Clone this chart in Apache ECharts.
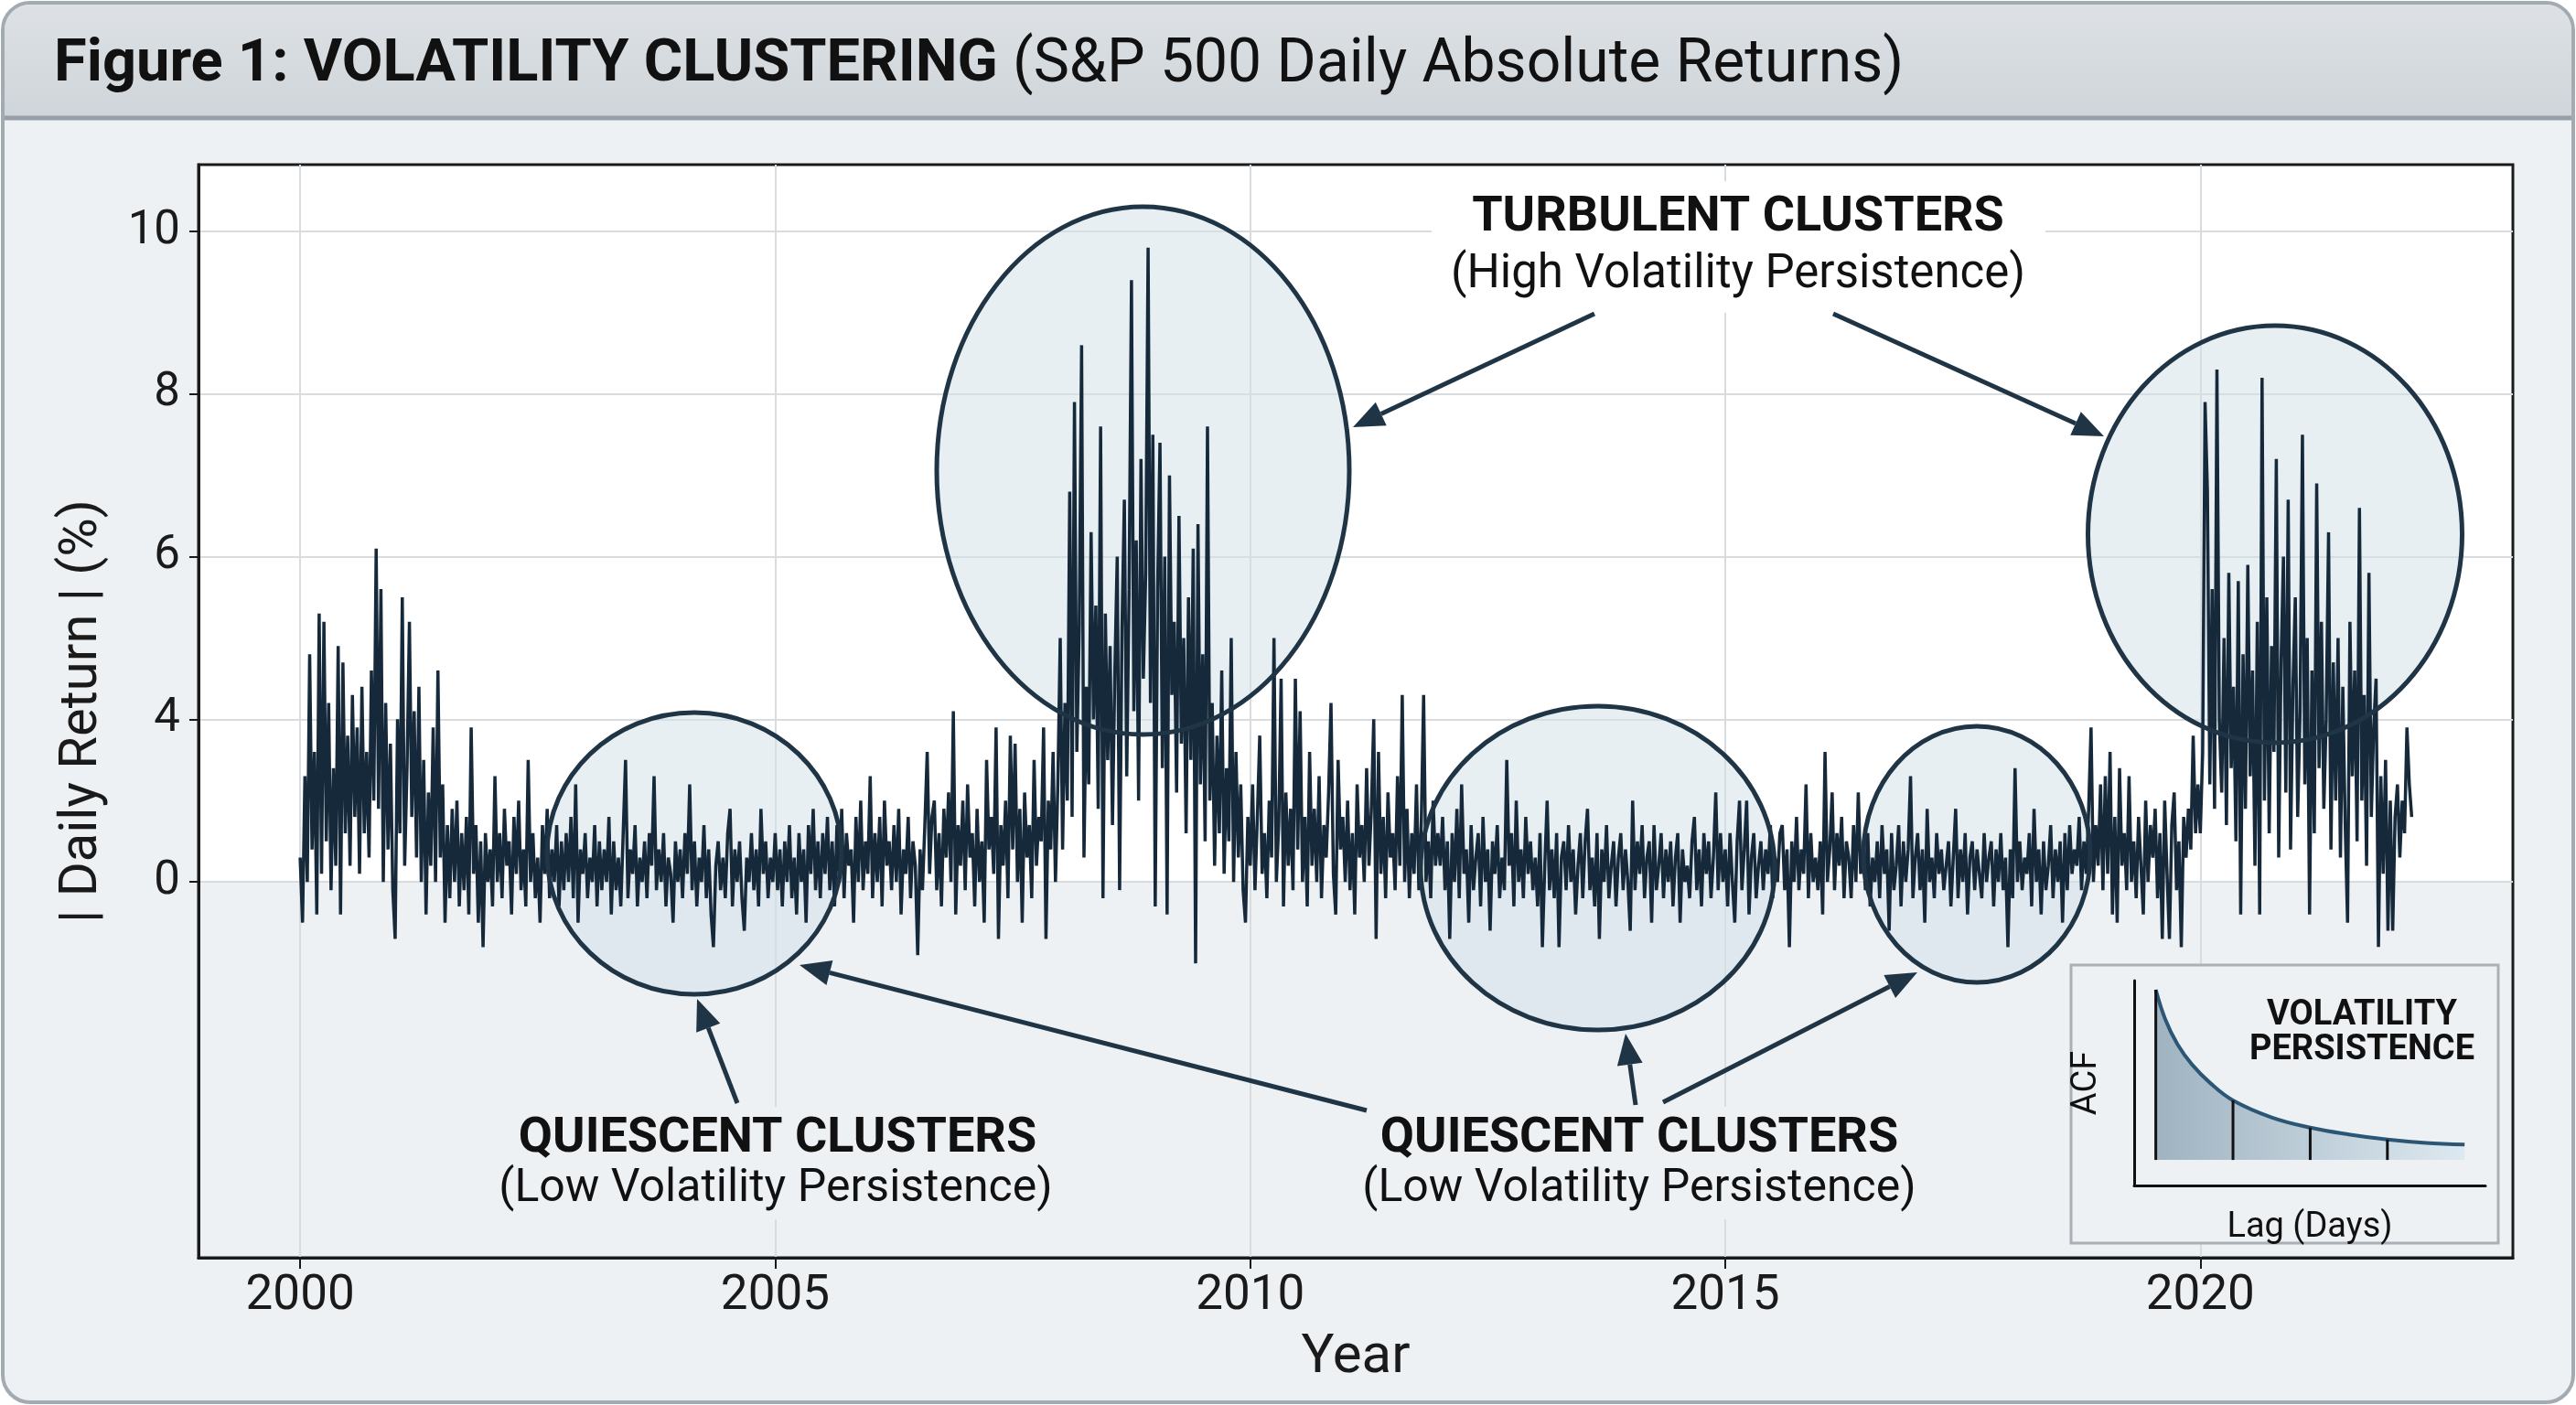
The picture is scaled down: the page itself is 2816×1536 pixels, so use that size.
<!DOCTYPE html>
<html>
<head>
<meta charset="utf-8">
<title>Volatility Clustering</title>
<script src="https://cdn.jsdelivr.net/npm/echarts/dist/echarts.min.js"></script>
<style>
  html, body { margin: 0; padding: 0; background: #fff; }
  #main { width: 2816px; height: 1536px; }
</style>
</head>
<body>
<div id="main"></div>
<script>
// |daily return|, 40 samples per year, in axis units
const startYear = 2000;
const perYear = 40;

const ret2000 = [
  2.3,1.5,3.3,2.0, 4.8,2.4,3.6,1.6, 5.3,2.1,5.2,2.5, 4.2,1.9,3.4,2.2, 4.9,1.6,4.7,2.6,
  3.8,2.2,4.3,2.8, 3.9,2.1,4.4,2.6, 3.6,2.3,4.6,3.0, 6.1,2.9,5.6,2.0, 4.2,2.4,3.7,1.9,
  1.3,4.0,2.6,5.5, 2.2,3.4,5.2,2.8, 4.1,2.3,4.4,2.0, 3.5,1.6,3.1,2.2, 3.9,2.0,4.6,2.3,
  3.2,1.5,2.7,1.8, 2.9,2.0,3.0,1.7, 2.6,1.9,2.8,1.6, 3.9,2.1,2.7,1.5, 2.5,1.2,2.6,2.0
];
const ret2002 = [
  2.4,1.7,3.3,2.0, 2.6,1.8,2.9,2.2, 2.5,1.6,2.8,2.1, 3.0,1.9,2.4,1.7, 3.5,2.0,2.6,1.8,
  2.3,1.5,2.7,2.1, 2.9,1.8,2.4,2.0, 2.7,1.7,2.5,1.9, 2.6,2.0,2.8,1.8, 3.2,1.5,2.4,2.1,
  2.6,1.8,2.3,2.0, 2.7,1.7,2.5,1.9, 2.4,2.0,2.8,1.6, 2.5,1.9,2.3,1.7, 2.6,3.5,1.8,2.4,
  2.1,2.7,1.7,2.3, 2.0,2.5,1.8,2.6, 2.2,3.3,1.9,2.4, 2.0,2.6,1.7,2.3, 2.1,1.5,2.5,2.0,
  2.4,1.8,2.6,2.1, 3.2,1.9,2.5,1.7, 2.3,2.0,2.7,1.8, 2.4,1.6,1.2,2.2, 2.5,1.9,2.3,1.8,
  2.6,2.9,1.7,2.4, 2.0,2.5,1.8,1.4, 2.3,2.0,2.6,1.9, 2.4,1.7,2.9,2.1, 2.5,1.8,2.3,2.0,
  2.6,1.9,2.4,1.7, 2.5,2.0,2.7,1.8, 2.3,1.6,2.6,2.0, 2.4,1.5,2.7,2.1, 2.9,1.9,2.5,1.8,
  2.6,2.1,2.8,1.9, 2.5,1.7,2.7,2.0, 2.9,1.8,2.6,2.2, 2.4,1.5,2.8,2.0, 3.0,1.9,2.5,2.1
];
const ret2006 = [
  3.3,1.8,2.6,2.0, 2.8,1.7,3.0,2.2, 2.5,1.9,2.7,2.0, 2.9,1.6,2.4,2.1, 2.8,1.8,2.5,2.2,
  1.1,2.4,1.9,2.7, 3.6,2.1,2.8,3.0, 1.9,2.6,1.7,2.9, 2.3,3.1,2.0,4.1, 1.6,2.7,2.2,3.0,
  1.9,3.2,2.3,2.6, 1.7,2.9,2.0,2.5, 1.5,3.5,2.4,2.8, 2.1,3.9,1.3,2.7, 2.2,3.0,1.8,3.8,
  2.4,3.7,2.0,2.9, 1.5,3.1,2.3,2.7, 1.8,3.5,2.2,2.8, 2.5,3.9,1.3,3.0, 2.4,3.6,2.0,3.2
];
const ret2008 = [
  5.0,2.4,4.2,3.0, 6.8,2.8,7.9,3.6, 5.1,8.6,2.3,4.4, 3.2,6.3,4.0,5.4, 2.9,7.6,1.8,5.3,
  3.5,4.9,2.7,4.6, 6.0,1.9,5.1,6.7, 3.3,5.6,9.4,4.1, 6.2,3.0,7.2,4.5, 5.8,9.8,4.2,7.5,
  1.7,5.6,7.4,3.4, 6.0,1.6,7.0,4.3, 5.2,3.1,6.5,3.7, 5.0,2.6,5.5,3.5, 6.1,1.0,6.4,3.2,
  4.8,2.5,7.6,3.0, 4.2,2.2,3.8,2.6, 4.6,2.1,3.4,2.5, 5.0,2.0,3.6,2.3, 3.2,1.9,1.5,2.8
];
const ret2010 = [
  2.2,3.2,1.9,2.8, 3.8,2.1,2.6,1.8, 3.0,2.3,5.0,2.0, 2.7,4.5,1.7,3.1, 2.2,2.9,1.9,4.5,
  2.4,4.1,2.0,2.8, 1.7,3.6,2.2,2.9, 2.0,3.3,1.8,2.7, 2.3,3.1,4.2,2.1, 1.6,3.5,2.4,2.8,
  2.0,3.0,1.9,2.6, 1.6,3.2,2.3,2.7, 2.0,3.4,2.2,2.9, 4.0,1.3,3.6,2.1, 2.8,1.8,3.1,2.3,
  2.6,1.9,3.3,2.2, 4.3,2.0,2.9,1.8, 2.6,2.1,3.2,1.9, 2.7,4.3,2.0,2.5, 1.8,3.0,2.2,2.6
];
const ret2012 = [
  2.2,2.8,1.9,2.5, 1.3,2.6,2.0,2.9, 1.8,3.2,2.1,2.4, 1.5,2.7,1.9,2.3, 2.6,1.7,2.8,2.0,
  2.4,1.4,2.5,2.1, 2.7,1.8,2.3,1.9, 3.5,2.2,2.6,1.7, 3.0,2.0,2.4,1.8, 2.8,2.1,2.5,1.9,
  2.3,1.7,2.6,1.2, 2.2,3.0,1.9,2.4, 1.8,2.6,1.2,2.3, 2.5,1.9,2.7,2.0, 2.4,1.6,2.2,2.6,
  1.8,2.5,2.9,1.9, 2.3,1.7,2.6,1.3, 2.4,2.0,2.7,1.8, 2.2,2.5,1.7,2.3, 2.6,1.9,2.4,2.0,
  1.4,3.0,1.9,2.5, 2.1,2.7,1.8,2.3, 2.5,1.5,2.7,1.9, 2.2,2.6,1.8,2.4, 2.0,2.5,1.7,2.3,
  2.6,1.5,2.4,2.0, 2.2,1.8,2.5,2.8, 1.9,2.4,1.7,2.6, 2.1,2.5,1.8,2.3, 3.1,1.9,2.6,2.0,
  2.4,1.7,2.6,2.0, 1.5,2.5,3.0,1.9, 2.4,3.0,1.6,2.3, 2.6,1.8,2.2,2.5, 1.9,2.4,2.1,2.7,
  1.8,2.3,2.0,2.6, 2.7,1.9,2.4,1.2, 2.5,2.0,2.8,1.9, 2.4,2.1,3.2,1.8, 2.6,2.0,2.3,1.9
];
const ret2016 = [
  2.5,1.6,3.6,2.0, 2.4,3.1,1.9,2.6, 2.2,2.8,1.8,2.5, 2.3,1.8,2.7,2.0, 3.1,2.1,2.4,1.9,
  2.6,1.7,2.3,2.0, 2.5,1.8,2.7,2.1, 2.4,1.4,2.6,1.9, 2.2,2.7,1.7,2.5, 2.0,2.4,3.3,1.8,
  2.3,2.6,1.9,2.4, 1.5,2.9,2.0,2.3, 1.8,2.6,2.1,2.4, 1.9,2.2,2.5,1.7, 2.3,2.9,1.8,2.4,
  2.0,2.6,1.6,2.3, 2.5,1.9,2.4,2.1, 1.8,2.6,2.0,2.3, 2.5,1.7,2.4,2.0, 2.6,1.9,2.3,1.2,
  2.4,1.8,3.4,2.0, 2.5,1.9,2.3,2.1, 2.6,1.7,2.9,2.0, 2.4,1.6,2.5,1.9, 2.2,2.7,1.8,2.4,
  2.0,2.5,1.5,2.6, 1.9,2.7,2.1,2.4, 2.2,2.8,1.9,2.5, 2.1,2.9,3.9,2.0, 2.7,2.2,3.2,1.9,
  3.3,2.1,3.6,1.6, 2.8,1.5,3.4,2.2, 2.6,1.9,3.3,2.0, 2.5,1.8,2.8,2.2, 1.6,3.0,2.0,2.7,
  2.3,2.9,1.8,2.6, 1.3,3.0,2.1,1.3, 2.7,3.1,1.9,2.5, 1.2,2.8,2.3,2.9, 2.4,3.8,2.6,3.2
];
const ret2020 = [
  2.6,3.6,7.9,6.8, 3.2,5.6,2.9,8.3, 4.0,3.1,5.0,2.7, 5.8,3.4,4.4,2.5, 5.7,1.6,4.8,2.9,
  5.9,3.3,4.6,2.2, 5.2,1.6,8.2,3.0, 5.5,2.6,4.9,3.6, 7.2,2.3,4.7,6.0, 3.1,6.7,2.4,4.4,
  5.5,2.8,4.1,7.5, 3.2,5.0,1.6,4.6, 2.6,6.9,3.4,5.2, 2.9,4.0,6.3,2.4, 4.7,3.0,5.0,2.3,
  4.4,2.7,1.5,5.2, 3.3,4.6,2.5,6.6, 3.0,4.3,2.2,5.8, 2.8,3.9,4.5,1.2, 3.3,2.1,3.5,1.4,
  3.0,1.4,2.8,3.2, 2.3,3.0,2.6,3.9, 3.2,2.8
];

// y ticks: the figure labels its lowest gridline "0"
const yTickValues = [2, 4, 6, 8, 10];
const yTickLabels = ['0', '4', '6', '8', '10'];
const xTickValues = [2000, 2005, 2010, 2015, 2020];

// inset: autocorrelation of volatility vs lag
const acfLags = [1, 1.12, 1.28, 1.47, 1.71, 2, 2.5, 3, 3.5, 4, 4.5, 5];
const acfValues = [1.0, 0.83, 0.68, 0.56, 0.45, 0.35, 0.25, 0.19, 0.15, 0.12, 0.10, 0.09];
const acfBarLags = [1, 2, 3, 4];

const allReturns = [].concat(ret2000, ret2002, ret2006, ret2008, ret2010, ret2012, ret2016, ret2020);
const seriesData = allReturns.map((v, i) => [startYear + i / perYear, v]);
const acfData = acfLags.map((l, i) => [l, acfValues[i]]);
const acfBarData = acfBarLags.map(l => [l, acfValues[acfLags.indexOf(l)]]);

const yMin = -2.62, yMax = 10.82;
const splitFrac = (yMax - yTickValues[0]) / (yMax - yMin);

const ink = '#1f3445';
const font = 'Roboto';

function arrow(x1, y1, x2, y2) {
  const a = Math.atan2(y2 - y1, x2 - x1);
  const L = 34, W = 14;
  const bx = x2 - L * Math.cos(a), by = y2 - L * Math.sin(a);
  return [
    { type: 'line', z: 12, shape: { x1: x1, y1: y1, x2: bx, y2: by }, style: { stroke: ink, lineWidth: 5 } },
    { type: 'polygon', z: 12, shape: { points: [[x2, y2], [bx + W * Math.sin(a), by - W * Math.cos(a)], [bx - W * Math.sin(a), by + W * Math.cos(a)]] }, style: { fill: ink } }
  ];
}

// tinted fill sits under the data line, the outline on top of it
function ellipse(cx, cy, rx, ry) {
  const shape = { cx: cx, cy: cy, rx: rx, ry: ry };
  return [
    { type: 'ellipse', z: 1, shape: shape, style: { fill: 'rgba(208,224,231,0.5)' } },
    { type: 'ellipse', z: 10, shape: shape, style: { fill: 'none', stroke: ink, lineWidth: 5 } }
  ];
}

function label(x, y, text, size, bold) {
  return { type: 'text', z: 20, x: x, y: y,
    style: { text: text, fill: '#111', fontSize: size, fontWeight: bold ? 'bold' : 'normal', fontFamily: font, align: 'center', verticalAlign: 'middle' } };
}

const graphics = [
  // panel and title bar
  { type: 'rect', z: -10, shape: { x: 3, y: 3, width: 2810, height: 1530, r: 30 }, style: { fill: '#eef1f4', stroke: '#a2aab2', lineWidth: 4 } },
  { type: 'rect', z: -9, shape: { x: 5, y: 5, width: 2806, height: 123, r: [28, 28, 0, 0] },
    style: { fill: new echarts.graphic.LinearGradient(0, 0, 0, 1, [{ offset: 0, color: '#dde1e5' }, { offset: 1, color: '#cfd5da' }]) } },
  { type: 'line', z: -8, shape: { x1: 5, y1: 129, x2: 2811, y2: 129 }, style: { stroke: '#97a0a8', lineWidth: 5 } },
  { type: 'text', z: 20, x: 59, y: 72,
    style: { text: '{b|Figure 1: VOLATILITY CLUSTERING }{r|(S&P 500 Daily Absolute Returns)}', verticalAlign: 'middle',
      rich: { b: { fontSize: 65, fontWeight: 'bold', fontFamily: font, fill: '#111' }, r: { fontSize: 66, fontFamily: font, fill: '#111' } } } },

  // backgrounds behind annotation text
  { type: 'rect', z: 5, shape: { x: 1565, y: 198, width: 671, height: 144 }, style: { fill: '#ffffff' } },
  { type: 'rect', z: 5, shape: { x: 540, y: 1210, width: 615, height: 123 }, style: { fill: '#eef1f4' } },
  { type: 'rect', z: 5, shape: { x: 1480, y: 1210, width: 620, height: 123 }, style: { fill: '#eef1f4' } },

  ...ellipse(1249.5, 514.5, 225.5, 288.5),
  ...ellipse(2487, 584, 204.5, 228),
  ...ellipse(759, 933, 161, 154),
  ...ellipse(1746.5, 949, 193.5, 177),
  ...ellipse(2161, 934, 124, 140),

  ...arrow(1743, 343, 1479, 467),
  ...arrow(2004, 343, 2300, 477),
  ...arrow(806, 1206, 762, 1092),
  ...arrow(1494, 1214, 874, 1055),
  ...arrow(1788, 1208, 1777, 1130),
  ...arrow(1818, 1205, 2096, 1063),

  label(1900, 238, 'TURBULENT CLUSTERS', 54, true),
  label(1900, 301, '(High Volatility Persistence)', 51, false),
  label(850, 1245, 'QUIESCENT CLUSTERS', 54, true),
  label(848, 1300, '(Low Volatility Persistence)', 50, false),
  label(1792, 1245, 'QUIESCENT CLUSTERS', 54, true),
  label(1792, 1300, '(Low Volatility Persistence)', 50, false),

  // inset frame
  { type: 'rect', z: 30, shape: { x: 2264, y: 1055, width: 467, height: 304 }, style: { fill: '#eef1f4', stroke: '#a9b0b6', lineWidth: 3 } },
  label(2582, 1110, 'VOLATILITY', 38, true),
  label(2582, 1148, 'PERSISTENCE', 38, true)
];
graphics.slice(-2).forEach(g => { g.z = 50; });

const chart = echarts.init(document.getElementById('main'));

let option = {
  animation: false,
  backgroundColor: '#ffffff',
  grid: [
    {
      left: 217, top: 180, right: 69, bottom: 161,
      show: true, borderColor: '#1a1a1a', borderWidth: 3,
      backgroundColor: new echarts.graphic.LinearGradient(0, 0, 0, 1, [
        { offset: 0, color: '#ffffff' }, { offset: splitFrac, color: '#ffffff' },
        { offset: splitFrac, color: '#eef1f4' }, { offset: 1, color: '#eef1f4' }
      ])
    },
    { left: 2333, top: 1072, right: 99, bottom: 240 }
  ],
  xAxis: [
    {
      gridIndex: 0, type: 'value', min: 1998.93, max: 2023.29,
      name: 'Year', nameLocation: 'middle', nameGap: 80,
      nameTextStyle: { fontSize: 60, color: '#1a1a1a', fontFamily: font },
      axisLine: { onZero: false, lineStyle: { color: '#1a1a1a', width: 3 } },
      axisTick: { customValues: xTickValues, length: 12, lineStyle: { color: '#1a1a1a', width: 2 } },
      axisLabel: { customValues: xTickValues, fontSize: 53, margin: 16, color: '#1a1a1a', fontFamily: font,
        formatter: v => String(v) },
      splitLine: { show: true, lineStyle: { color: '#d9dcdf', width: 2 } }
    },
    {
      gridIndex: 1, type: 'value', min: 0.72, max: 5.27, z: 45,
      name: 'Lag (Days)', nameLocation: 'middle', nameGap: 27,
      nameTextStyle: { fontSize: 38, color: '#111', fontFamily: font },
      axisLine: { onZero: false, lineStyle: { color: '#111', width: 3 } },
      axisTick: { show: false }, axisLabel: { show: false }, splitLine: { show: false }
    }
  ],
  yAxis: [
    {
      gridIndex: 0, type: 'value', min: yMin, max: yMax,
      name: '| Daily Return | (%)', nameLocation: 'middle', nameGap: 98, nameRotate: 90,
      nameTextStyle: { fontSize: 58, color: '#1a1a1a', fontFamily: font },
      axisLine: { show: true, lineStyle: { color: '#1a1a1a', width: 3 } },
      axisTick: { show: true, customValues: yTickValues, length: 10, lineStyle: { color: '#1a1a1a', width: 2 } },
      axisLabel: {
        customValues: yTickValues, fontSize: 51, margin: 20, color: '#1a1a1a', fontFamily: font,
        formatter: v => yTickLabels[yTickValues.indexOf(v)]
      },
      splitLine: { show: true, lineStyle: { color: '#d9dcdf', width: 2 } }
    },
    {
      gridIndex: 1, type: 'value', min: -0.15, max: 1.054, z: 45,
      name: 'ACF', nameLocation: 'middle', nameGap: 33, nameRotate: 90,
      nameTextStyle: { fontSize: 38, color: '#111', fontFamily: font },
      axisLine: { show: true, onZero: false, lineStyle: { color: '#111', width: 3 } },
      axisTick: { show: false }, axisLabel: { show: false }, splitLine: { show: false }
    }
  ],
  series: [
    {
      type: 'line', xAxisIndex: 0, yAxisIndex: 0, data: seriesData,
      showSymbol: false, symbol: 'none', z: 2,
      lineStyle: { width: 3.5, color: '#15293b' }
    },
    {
      type: 'line', xAxisIndex: 1, yAxisIndex: 1, data: acfData, smooth: 0.4,
      showSymbol: false, symbol: 'none', z: 40,
      lineStyle: { width: 4, color: '#2c5675' },
      areaStyle: {
        opacity: 1,
        color: new echarts.graphic.LinearGradient(0, 0, 1, 0, [
          { offset: 0, color: '#9fb3c1' }, { offset: 1, color: '#dde9f0' }
        ])
      },
      markLine: {
        silent: true, symbol: 'none', label: { show: false },
        lineStyle: { color: '#111', width: 3, type: 'solid' },
        data: [{ yAxis: 0 }]
      }
    },
    {
      type: 'bar', xAxisIndex: 1, yAxisIndex: 1, data: acfBarData,
      barWidth: 3, z: 41, itemStyle: { color: '#111' }
    }
  ],
  graphic: graphics
};

chart.setOption(option);
</script>
</body>
</html>
